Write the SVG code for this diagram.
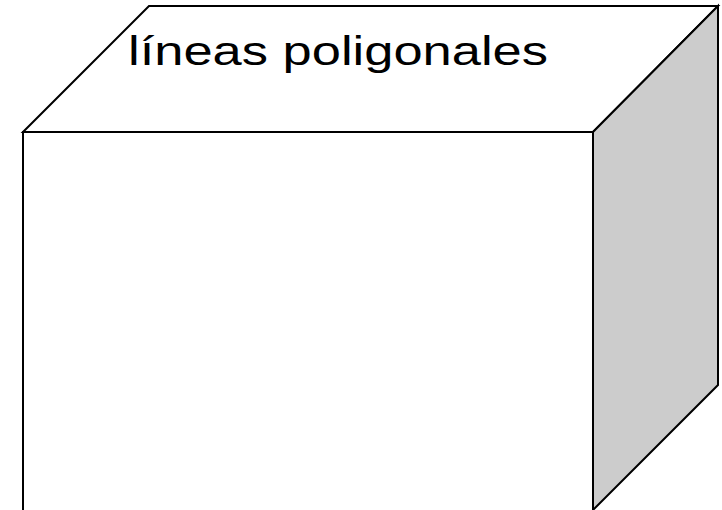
<svg xmlns="http://www.w3.org/2000/svg" width="722" height="510" viewBox="0 0 722 510">
<style>
.edge{stroke:#000;stroke-width:2;stroke-linejoin:miter}
.label{font-family:"Liberation Sans","DejaVu Sans",sans-serif;font-size:40px;fill:#000}
</style>
<rect width="722" height="510" fill="#fff"/>
<g id="top">
<polygon class="edge" points="23,132 149,6 718,6 593,132" fill="#fff"/>
</g>
<g id="right">
<polygon class="edge" points="593,132 718,6 718,385 593,510" fill="#cccccc"/>
</g>
<g id="front">
<polygon class="edge" points="23,132 593,132 593,512 23,512" fill="#fff"/>
</g>
<text class="label" x="128" y="65" textLength="420" lengthAdjust="spacingAndGlyphs">líneas poligonales</text>
</svg>
